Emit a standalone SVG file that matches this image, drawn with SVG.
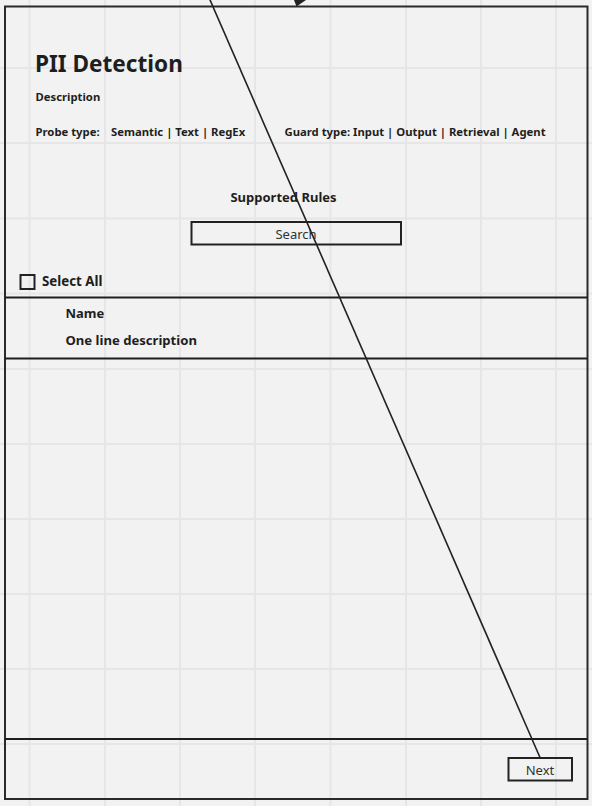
<svg xmlns="http://www.w3.org/2000/svg" width="592" height="806" viewBox="0 0 592 806">
<style>
.grid{stroke:#e6e6e6;stroke-width:2}
.frame{fill:none;stroke:#2a2a2a;stroke-width:2}
.sep{stroke:#1e1e1e;stroke-width:2}
.b{font-family:"Noto Sans","Open Sans",sans-serif;font-weight:bold;fill:#1e1e1e}
.r{font-family:"Noto Sans","Open Sans",sans-serif;fill:#333}
.box{fill:none;stroke:#222;stroke-width:2}
.conn{stroke:#222;stroke-width:1.6;fill:none}
</style>
<rect width="592" height="806" fill="#f2f2f2"/>
<g id="grid">
<path class="grid" d="M29.5 0V806M105 0V806M180 0V806M255 0V806M330.5 0V806M406 0V806M481 0V806M556 0V806"/>
<path class="grid" d="M0 68H592M0 143H592M0 218.5H592M0 293.5H592M0 369H592M0 444H592M0 519H592M0 594H592M0 669H592M0 744H592"/>
</g>
<g id="frame">
<rect class="frame" x="5" y="6.5" width="582.5" height="792.5"/>
<line class="sep" x1="5" y1="297.5" x2="587.5" y2="297.5"/>
<line class="sep" x1="5" y1="358.5" x2="587.5" y2="358.5"/>
<line class="sep" x1="5" y1="739" x2="587.5" y2="739"/>
</g>
<g id="header">
<text class="b" x="35" y="72" font-size="22.6">PII Detection</text>
<text class="b" x="35.5" y="101" font-size="11.3">Description</text>
<text class="b" x="35.5" y="136" font-size="11.3">Probe type:</text>
<text class="b" x="111" y="136" font-size="11.3">Semantic | Text | RegEx</text>
<text class="b" x="284.5" y="136" font-size="11.3">Guard type: Input | Output | Retrieval | Agent</text>
</g>
<g id="rules">
<text class="b" x="283.5" y="202" font-size="13" text-anchor="middle">Supported Rules</text>
</g>
<g id="search">
<rect class="box" x="191.5" y="222" width="209.5" height="22.5"/>
<text class="r" x="296" y="238.5" font-size="13" text-anchor="middle">Search</text>
</g>
<g id="select-all">
<rect class="box" x="20.5" y="275" width="14" height="14"/>
<text class="b" x="42" y="286" font-size="13.3">Select All</text>
</g>
<g id="row">
<text class="b" x="65.5" y="318" font-size="13">Name</text>
<text class="b" x="65.5" y="345" font-size="13.1">One line description</text>
</g>
<g id="next">
<rect class="box" x="508.5" y="758" width="63.5" height="22.5"/>
<text class="r" x="540" y="775" font-size="13" text-anchor="middle">Next</text>
</g>
<g id="connectors">
<line class="conn" x1="540" y1="757.5" x2="207" y2="-7"/>
<polygon points="296.5,6.5 294,0 306,0" fill="#222"/>
</g>
</svg>
